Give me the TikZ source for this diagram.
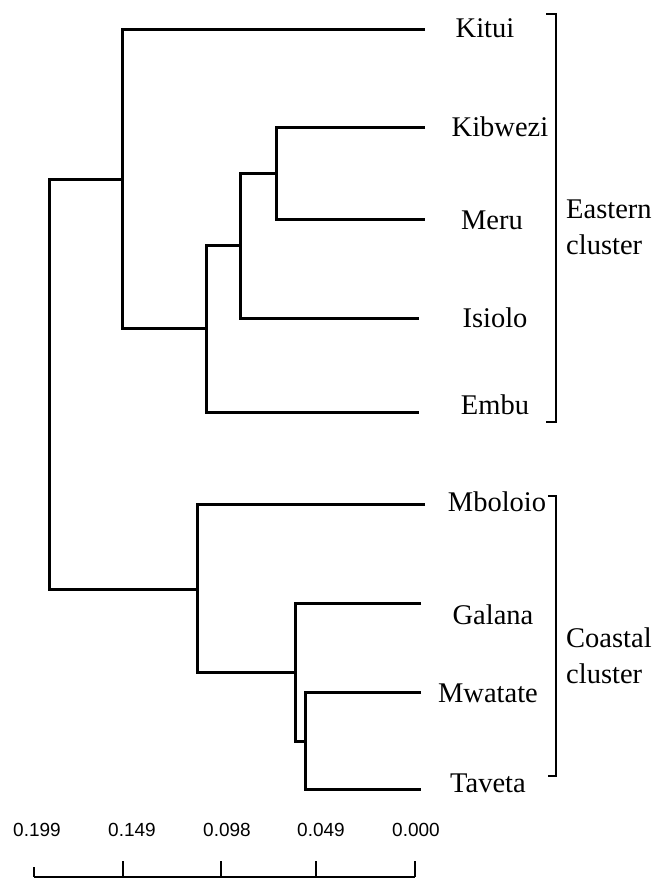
\documentclass[tikz,border=0pt]{standalone}
\usepackage{fontspec}
\setmainfont{Liberation Serif}
\newfontfamily\scalefont{Liberation Sans}
\usepackage{tikz}
\usetikzlibrary{positioning,calc}
\tikzstyle{branch}=[line width=3pt,line join=miter]
\tikzstyle{taxon}=[font=\fontsize{28.5}{34}\selectfont,inner sep=0pt]
\tikzstyle{grouplabel}=[font=\fontsize{28.5}{36}\selectfont,align=left,anchor=west,inner sep=0pt]
\tikzstyle{bracket}=[line width=1.5pt]
\tikzstyle{scalelabel}=[font=\scalefont\fontsize{19}{22}\selectfont,inner sep=0pt]

\begin{document}
\begin{tikzpicture}[x=1pt,y=-1pt]
\useasboundingbox (0,0) rectangle (658,879);
% leaf tips
\coordinate (kitui) at (425,29);
\coordinate (kibwezi) at (425,127);
\coordinate (meru) at (425,219);
\coordinate (isiolo) at (419,318);
\coordinate (embu) at (419,412);
\coordinate (mboloio) at (425,504);
\coordinate (galana) at (421,603);
\coordinate (mwatate) at (421,692);
\coordinate (taveta) at (421,789);
% joins
\coordinate (km) at (276,173);
\coordinate (kmi) at (240,245);
\coordinate (kmie) at (206,328);
\coordinate (east) at (122,179);
\coordinate (mt) at (305,741);
\coordinate (gmt) at (295,672);
\coordinate (coast) at (197,589);
\coordinate (root) at (49,384);

\draw[branch] (kibwezi) -| (km) |- (meru);
\draw[branch] (km) -| (kmi) |- (isiolo);
\draw[branch] (kmi) -| (kmie) |- (embu);
\draw[branch] (kitui) -| (east) |- (kmie);
\draw[branch] (mwatate) -| (mt) |- (taveta);
\draw[branch] (galana) -| (gmt) |- (mt);
\draw[branch] (mboloio) -| (coast) |- (gmt);
\draw[branch] (east) -| (root) |- (coast);

\node[taxon] (tKitui) at (485,28) {Kitui};
\node[taxon] (tKibwezi) at (500,127) {Kibwezi};
\node[taxon] (tMeru) at (492,220) {Meru};
\node[taxon] (tIsiolo) at (495,318) {Isiolo};
\node[taxon] (tEmbu) at (495,405) {Embu};
\node[taxon] (tMboloio) at (497,502) {Mboloio};
\node[taxon] (tGalana) at (493,615) {Galana};
\node[taxon] (tMwatate) at (488,693) {Mwatate};
\node[taxon] (tTaveta) at (488,783) {Taveta};

\coordinate (eTop) at (546,14);
\coordinate (eBot) at (546,422);
\coordinate (cTop) at (548,496);
\coordinate (cBot) at (548,776);
\draw[bracket] (eTop) -- ++(10,0) |- (eBot);
\draw[bracket] (cTop) -- ++(8,0) |- (cBot);
\node[grouplabel] (gEast) at (566,227) {Eastern\\cluster};
\node[grouplabel] (gCoast) at (566,656) {Coastal\\cluster};

\coordinate (s199) at (34,877);
\coordinate (s000) at (415,877);
\draw[line width=2pt] (s199) -- (s000);
\draw[line width=2pt] (s199) -- ++(0,-10);
\foreach \x in {123,221,316,415}
  \draw[line width=2pt] (\x,877) -- ++(0,-16);
\foreach \x/\v in {37/0.199,132/0.149,227/0.098,321/0.049,416/0.000}
  \node[scalelabel] at (\x,830) {\v};
\end{tikzpicture}
\end{document}
